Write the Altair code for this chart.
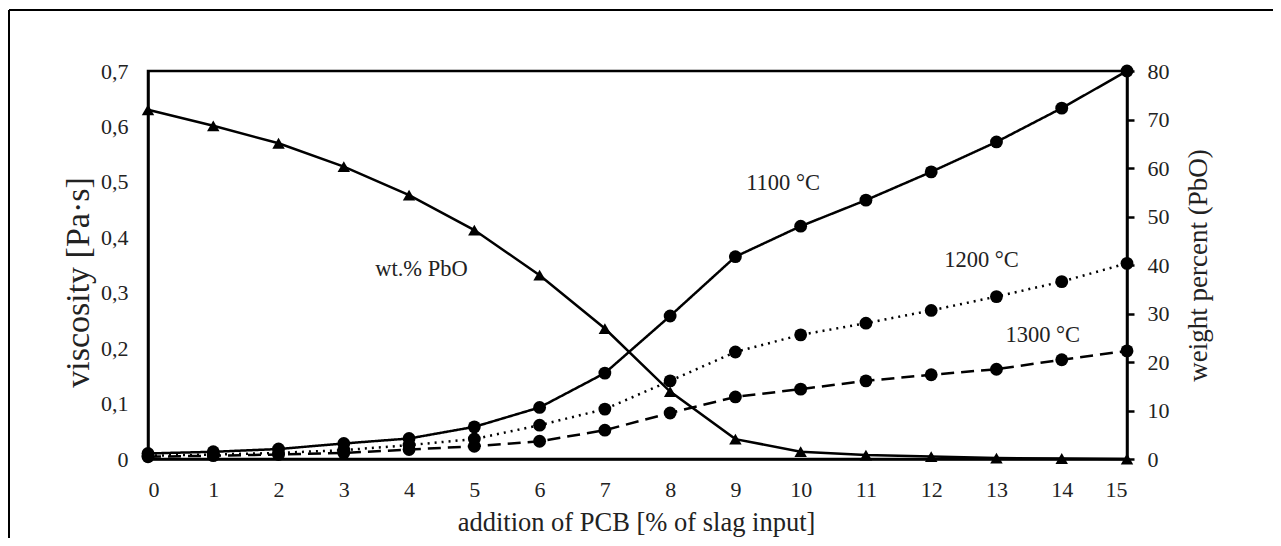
import altair as alt
import pandas as pd

# ---- data ----
x_vals = list(range(16))
temps = ["1100 °C", "1200 °C", "1300 °C"]
v1100 = [0.010, 0.013, 0.018, 0.028, 0.037, 0.058, 0.093, 0.155, 0.258, 0.365, 0.420, 0.467, 0.518, 0.572, 0.633, 0.700]
v1200 = [0.006, 0.008, 0.011, 0.016, 0.025, 0.036, 0.061, 0.090, 0.141, 0.193, 0.224, 0.245, 0.268, 0.293, 0.320, 0.353]
v1300 = [0.004, 0.006, 0.008, 0.011, 0.017, 0.023, 0.032, 0.052, 0.083, 0.112, 0.126, 0.141, 0.152, 0.162, 0.179, 0.195]
pbo = [72.0, 68.7, 65.1, 60.3, 54.4, 47.2, 37.9, 26.9, 13.9, 4.1, 1.5, 0.8, 0.5, 0.2, 0.1, 0.0]

label_text = ["wt.% PbO", "1100 °C", "1200 °C", "1300 °C"]
label_x = [4.19, 9.73, 12.77, 13.71]
label_y = [0.343, 0.498, 0.359, 0.224]

visc_ticks = [0, 0.1, 0.2, 0.3, 0.4, 0.5, 0.6, 0.7]
pbo_ticks = [0, 10, 20, 30, 40, 50, 60, 70, 80]

rows = []
for t, vals in zip(temps, [v1100, v1200, v1300]):
    for xv, yv in zip(x_vals, vals):
        rows.append({"x": xv, "visc": yv, "temp": t})
visc_df = pd.DataFrame(rows)
pbo_df = pd.DataFrame({"x": x_vals, "pbo": pbo})
lab_df = pd.DataFrame({"x": label_x, "visc": label_y, "text": label_text})

FONT = "Liberation Serif"
TXT = "#222222"
W, H = 979, 388
fonts = dict(labelFont=FONT, titleFont=FONT, labelFontSize=22,
             labelColor=TXT, titleColor=TXT, titleFontWeight="normal")

x_enc = alt.X(
    "x:Q",
    scale=alt.Scale(domain=[0, 15], nice=False, zero=False),
    axis=alt.Axis(
        values=x_vals, title="addition of PCB [% of slag input]",
        ticks=False, labelPadding=20, titleX=488, titleY=63,
        titleBaseline="middle", titleAlign="center", titleFontSize=26.5,
        **fonts,
    ),
)
y_visc = alt.Y(
    "visc:Q",
    scale=alt.Scale(domain=[0, 0.7], nice=False),
    axis=alt.Axis(
        values=visc_ticks, orient="left", ticks=False, labelPadding=20,
        labelExpr="datum.value == 0 ? '0' : replace(format(datum.value, '.1f'), '.', ',')",
        title="viscosity [Pa·s]", titleAngle=270, titleX=-70, titleY=211,
        titleAlign="center", titleBaseline="middle", titleFontSize=34,
        **fonts,
    ),
)

lines = alt.Chart(visc_df).mark_line(color="black", strokeWidth=2.5).encode(
    x=x_enc, y=y_visc,
    strokeDash=alt.StrokeDash(
        "temp:N",
        scale=alt.Scale(domain=temps, range=[[1, 0], [2, 5], [13, 7]]),
        legend=None,
    ),
)
points = alt.Chart(visc_df).mark_point(
    shape="circle", filled=True, color="black", size=165, opacity=1
).encode(x=x_enc, y=y_visc)
labels = alt.Chart(lab_df).mark_text(
    font=FONT, fontSize=22.5, color=TXT, align="center", baseline="middle"
).encode(x=x_enc, y=y_visc, text="text:N")

visc_layer = alt.layer(lines, points, labels)

y_pbo = alt.Y(
    "pbo:Q",
    scale=alt.Scale(domain=[0, 80], nice=False),
    axis=alt.Axis(
        values=pbo_ticks, orient="right", ticks=True, tickSize=7,
        labelPadding=13, title="weight percent (PbO)", titleAngle=270,
        titleX=71, titleY=194, titleAlign="center", titleBaseline="middle",
        titleFontSize=27, **fonts,
    ),
)
pbo_line = alt.Chart(pbo_df).mark_line(color="black", strokeWidth=2.5).encode(
    x=x_enc, y=y_pbo
)
pbo_pts = alt.Chart(pbo_df).mark_point(
    shape="triangle-up", filled=True, color="black", size=155, opacity=1
).encode(x=x_enc, y=y_pbo)
pbo_layer = alt.layer(pbo_line, pbo_pts)

frame = alt.Data(values=[{"k": 1}])
frame_top = alt.Chart(frame).mark_rule(color="black", strokeWidth=2).encode(
    x=alt.value(-139), x2=alt.value(1140), y=alt.value(-61)
)
frame_left = alt.Chart(frame).mark_rule(color="black", strokeWidth=2).encode(
    x=alt.value(-139), y=alt.value(-61), y2=alt.value(480)
)

chart = (
    alt.layer(visc_layer, pbo_layer, frame_top, frame_left)
    .resolve_scale(y="independent")
    .properties(
        width=W, height=H,
        autosize=alt.AutoSizeParams(type="none"),
        padding={"left": 140, "top": 63, "right": 146, "bottom": 79},
        background="white",
    )
    .configure_view(stroke="black", strokeWidth=2.5)
    .configure_axis(
        labelFont=FONT, titleFont=FONT, labelFontSize=22, titleFontSize=25,
        labelColor=TXT, titleColor=TXT, titleFontWeight="normal",
        grid=False, domainColor="black", domainWidth=2.5,
        tickColor="black", tickWidth=2.5,
    )
)

chart.save("out.html", embed_options={"renderer": "svg", "actions": False})
